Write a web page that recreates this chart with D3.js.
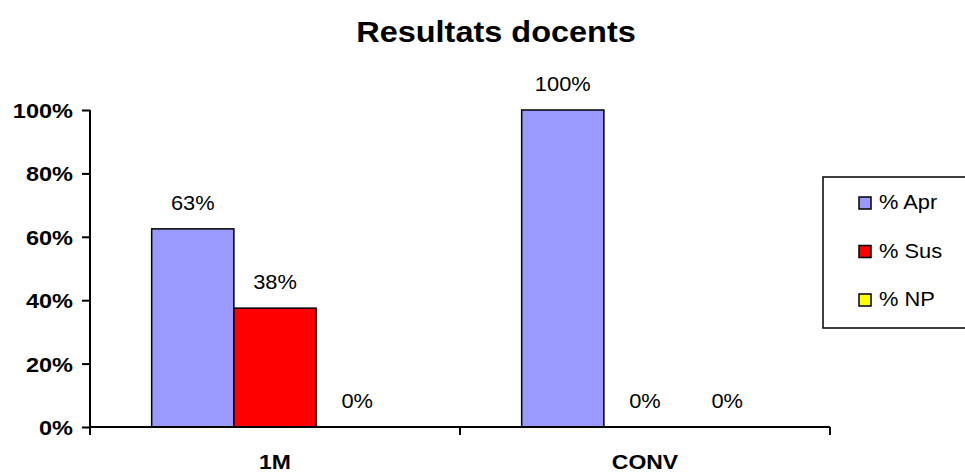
<!DOCTYPE html>
<html>
<head>
<meta charset="utf-8">
<script src="https://cdn.jsdelivr.net/npm/d3@7"></script>
<style>
  html, body { margin: 0; padding: 0; background: #fff; }
  svg { display: block; }
  text { font-family: "Liberation Sans", Arial, sans-serif; fill: #000; }
</style>
</head>
<body>
<svg id="chart" width="965" height="474"></svg>
<script>
// ---- data ----
const categories = ["1M", "CONV"];
const seriesNames = ["% Apr", "% Sus", "% NP"];
const apr = [0.625, 1.0];
const sus = [0.375, 0.0];
const np  = [0.0, 0.0];
const yTicks = [0, 0.2, 0.4, 0.6, 0.8, 1.0];
const title = "Resultats docents";
const seriesColors = ["#9999FF", "#FF0000", "#FFFF00"];

const seriesValues = [apr, sus, np];
const data = categories.map((c, i) => ({
  cat: c,
  vals: seriesNames.map((s, j) => ({ series: s, idx: j, value: seriesValues[j][i] }))
}));

const svg = d3.select("#chart");
const SX = 1.12; // horizontal text stretch
function place(sel, x, y) { return sel.attr("transform", `translate(${x},${y}) scale(${SX},1)`); }

const x0 = d3.scaleBand().domain(categories).range([90, 830]).paddingInner(0).paddingOuter(0);
const x1 = d3.scaleBand().domain(seriesNames).range([0, x0.bandwidth()]).paddingInner(0).paddingOuter(0.75);
const y = d3.scaleLinear().domain([0, 1]).range([427, 110]);
const pct = d3.format(".0%");

// title
place(svg.append("text"), 496, 42)
  .attr("text-anchor", "middle").style("font-weight", "bold").style("font-size", "29px")
  .text(title);

// bars
const groups = svg.append("g").selectAll("g").data(data).join("g")
  .attr("transform", d => `translate(${x0(d.cat)},0)`);
groups.selectAll("rect").data(d => d.vals.filter(v => v.value > 0)).join("rect")
  .attr("x", v => x1(v.series))
  .attr("y", v => y(v.value))
  .attr("width", x1.bandwidth())
  .attr("height", v => y(0) - y(v.value))
  .attr("fill", v => seriesColors[v.idx])
  .attr("stroke", "#000").attr("stroke-width", 1.5);

// data labels
groups.each(function(d) {
  const g = d3.select(this);
  d.vals.forEach(v => {
    place(g.append("text"), x1(v.series) + x1.bandwidth() / 2, y(v.value) - 19)
      .attr("text-anchor", "middle").style("font-size", "19.5px")
      .text(pct(v.value));
  });
});

// y axis
const yAxis = d3.axisLeft(y).tickValues(yTicks).tickFormat(pct).tickSize(8).tickPadding(10);
const gy = svg.append("g").attr("transform", "translate(90,0)").call(yAxis);
gy.select(".domain").attr("d", `M0,${y(1)}V${y(0)}`).attr("stroke", "#000").attr("stroke-width", 2);
gy.selectAll(".tick line").attr("stroke", "#000").attr("stroke-width", 2);
gy.selectAll(".tick text").each(function() {
  const t = d3.select(this);
  t.attr("x", null).attr("dy", null).attr("y", null);
  place(t, -17, 0).attr("dy", "0.36em").attr("text-anchor", "end")
    .style("font-size", "21px").style("font-weight", "bold").attr("font-family", null).attr("fill", "#000");
});
gy.attr("font-size", null).attr("font-family", null);

// x axis
const gx = svg.append("g").attr("transform", `translate(0,${y(0)})`);
gx.append("line").attr("x1", 90).attr("x2", 830).attr("y1", 0).attr("y2", 0)
  .attr("stroke", "#000").attr("stroke-width", 2);
const boundaries = categories.map(c => x0(c)).concat([x0(categories[categories.length - 1]) + x0.bandwidth()]);
gx.selectAll("line.b").data(boundaries).join("line").attr("class", "b")
  .attr("x1", d => d).attr("x2", d => d).attr("y1", 0).attr("y2", 8)
  .attr("stroke", "#000").attr("stroke-width", 2);
gx.selectAll("text").data(categories).join("text")
  .each(function(c) {
    place(d3.select(this), x0(c) + x0.bandwidth() / 2, 42);
  })
  .attr("text-anchor", "middle").style("font-weight", "bold").style("font-size", "20.5px")
  .text(c => c);

// legend
const lg = svg.append("g");
lg.append("rect").attr("x", 823).attr("y", 177).attr("width", 160).attr("height", 151)
  .attr("fill", "#fff").attr("stroke", "#000").attr("stroke-width", 1.5);
seriesNames.forEach((s, i) => {
  const yy = 197 + i * 48.5;
  lg.append("rect").attr("x", 859).attr("y", yy).attr("width", 12).attr("height", 12)
    .attr("fill", seriesColors[i]).attr("stroke", "#000").attr("stroke-width", 1.5);
  place(lg.append("text"), 879, yy + 12).style("font-size", "19.5px").text(s);
});
</script>
</body>
</html>
